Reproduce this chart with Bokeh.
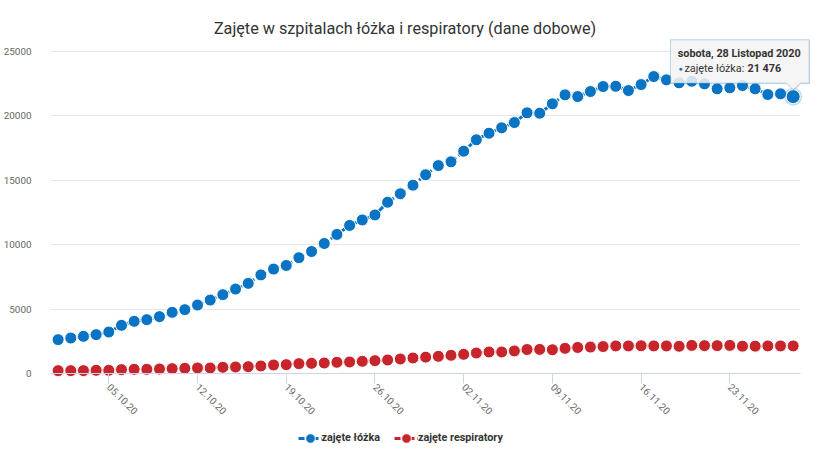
import pandas as pd
from math import pi
from bokeh.plotting import figure
from bokeh.models import (Range1d, FixedTicker, DatetimeTickFormatter, Legend, LegendItem,
                          Label, PolyAnnotation, BoxAnnotation)
from bokeh.embed import file_html
from bokeh.resources import INLINE

# ---------------- data ----------------
chart_title = "Zajęte w szpitalach łóżka i respiratory (dane dobowe)"
start_date = "2020-10-01"
series_names = ["zajęte łóżka", "zajęte respiratory"]
beds = [2627, 2751, 2883, 3015, 3216, 3736, 4046, 4177, 4410, 4743,
        4952, 5309, 5696, 6115, 6549, 6991, 7649, 8099, 8378, 8982,
        9463, 10083, 10788, 11486, 11912, 12299, 13284, 13942, 14609, 15415,
        16128, 16422, 17244, 18127, 18639, 19057, 19468, 20220, 20189, 20917,
        21615, 21483, 21871, 22258, 22281, 21948, 22413, 23033, 22777, 22545,
        22669, 22467, 22080, 22157, 22336, 22080, 21638, 21692, 21476]
respirators = [222, 222, 222, 248, 248, 300, 326, 326, 351, 377,
               403, 429, 429, 481, 506, 532, 584, 661, 687, 765,
               790, 816, 868, 894, 946, 997, 1049, 1126, 1204, 1270,
               1333, 1411, 1488, 1591, 1669, 1669, 1750, 1860, 1870, 1840,
               1950, 2020, 2050, 2090, 2140, 2140, 2150, 2140, 2140, 2110,
               2180, 2160, 2160, 2180, 2120, 2120, 2140, 2140, 2140]
x_tick_labels = ["05.10.20", "12.10.20", "19.10.20", "26.10.20",
                 "02.11.20", "09.11.20", "16.11.20", "23.11.20"]
y_ticks = [0, 5000, 10000, 15000, 20000, 25000]
tooltip_header = "sobota, 28 Listopad 2020"
tooltip_value = "21 476"

dates = pd.date_range(start_date, periods=len(beds), freq="D")
tick_dates = pd.to_datetime(x_tick_labels, format="%d.%m.%y")

BLUE = "#0a74c4"
RED = "#c8242b"
FONT = "Roboto"

# ---------------- layout (pixels) ----------------
# frame covers page x 50..812 and y 5..454; the x axis is pinned at y = 0 (page y 373)
FRAME_LEFT, FRAME_TOP, FRAME_RIGHT, FRAME_BOTTOM = 50, 5, 812, 454
AXIS_Y = 373.0
PX_PER_DAY = 12.674
PX_PER_UNIT = 322.3 / 25000


def sx(px):
    return px - FRAME_LEFT


def sy(py):
    return FRAME_BOTTOM - py


day = pd.Timedelta(days=1)
x_start = dates[0] - (7.6 / PX_PER_DAY) * day
x_end = x_start + ((FRAME_RIGHT - FRAME_LEFT) / PX_PER_DAY) * day
axis_end = dates[-1] + (7.3 / PX_PER_DAY) * day
y_start = -(FRAME_BOTTOM - AXIS_Y) / PX_PER_UNIT
y_end = (AXIS_Y - FRAME_TOP) / PX_PER_UNIT

p = figure(frame_width=FRAME_RIGHT - FRAME_LEFT, frame_height=FRAME_BOTTOM - FRAME_TOP,
           x_axis_type="datetime",
           x_range=Range1d(x_start, x_end), y_range=Range1d(y_start, y_end),
           output_backend="svg", toolbar_location=None, title=None,
           min_border_left=FRAME_LEFT, min_border_right=821 - FRAME_RIGHT,
           min_border_top=FRAME_TOP, min_border_bottom=0)
p.outline_line_color = None
p.background_fill_color = "white"
p.border_fill_color = "white"

# grid
p.xgrid.grid_line_color = None
p.ygrid.grid_line_color = "#e6e6e6"
p.ygrid.ticker = FixedTicker(ticks=y_ticks)
# hide gridline ends right of the plot area (frame is widened for the tooltip)
p.add_layout(BoxAnnotation(left=axis_end, fill_color="white", fill_alpha=1,
                           line_color=None, level="underlay"))

# y axis
p.yaxis.ticker = FixedTicker(ticks=y_ticks)
p.yaxis.axis_line_color = None
p.yaxis.major_tick_line_color = None
p.yaxis.minor_tick_line_color = None
p.yaxis.major_label_standoff = 13
p.yaxis.major_label_text_font = FONT
p.yaxis.major_label_text_font_size = "9.9px"
p.yaxis.major_label_text_color = "#666666"

# x axis (pinned at y = 0)
p.xaxis.fixed_location = 0
p.xaxis.ticker = FixedTicker(ticks=[t.value // 10**6 for t in tick_dates])
fmt = "%d.%m.%y"
p.xaxis.formatter = DatetimeTickFormatter(days=fmt, months=fmt, hours=fmt, years=fmt)
p.xaxis.bounds = (x_start, axis_end)
p.xaxis.axis_line_color = "#ccd6eb"
p.xaxis.major_tick_line_color = "#ccd6eb"
p.xaxis.major_tick_out = 10
p.xaxis.major_tick_in = 0
p.xaxis.minor_tick_line_color = None
p.xaxis.major_label_orientation = -pi / 4
p.xaxis.major_label_standoff = 2
p.xaxis.major_label_text_font = FONT
p.xaxis.major_label_text_font_size = "9.9px"
p.xaxis.major_label_text_color = "#666666"

# series
l1 = p.line(dates, beds, line_color=BLUE, line_width=3, line_dash="6 3 2 3")
s1 = p.scatter(dates, beds, size=12, fill_color=BLUE, line_color="white", line_width=1)
l2 = p.line(dates, respirators, line_color=RED, line_width=3, line_dash="6 3 2 3")
s2 = p.scatter(dates, respirators, size=12, fill_color=RED, line_color="white", line_width=1)

# hovered last point with halo
p.scatter([dates[-1]], [beds[-1]], size=18, fill_color=BLUE, fill_alpha=0.25, line_color=None)
p.scatter([dates[-1]], [beds[-1]], size=14, fill_color=BLUE, line_color="white", line_width=1)

# legend (bottom centre, inside the tall frame)
legend = Legend(items=[LegendItem(label=series_names[0], renderers=[l1, s1]),
                       LegendItem(label=series_names[1], renderers=[l2, s2])],
                orientation="horizontal", location=(sx(297.5), sy(437.5) - 14),
                glyph_width=24, glyph_height=28, label_standoff=0, spacing=14,
                padding=0, margin=0, border_line_color=None, background_fill_alpha=0,
                label_text_font=FONT, label_text_font_size="10.8px",
                label_text_font_style="bold", label_text_color="#333333")
p.add_layout(legend, "center")

# title
p.add_layout(Label(x=sx(404.5), y=sy(28), x_units="screen", y_units="screen", text=chart_title,
                   text_align="center", text_baseline="middle", text_font=FONT,
                   text_font_size="16.2px", text_color="#333333"))

# tooltip box (static)
L, R, T, B = sx(670), sx(808.7), sy(39.3), sy(82.7)
px0, px1, tipx, tipy = sx(786), sx(800), sx(792.7), sy(89.3)
p.add_layout(PolyAnnotation(xs=[L + 1, R + 1, R + 1, px1 + 1, tipx + 1, px0 + 1, L + 1],
                            ys=[T - 1, T - 1, B - 1, B - 1, tipy - 1, B - 1, B - 1],
                            xs_units="screen", ys_units="screen",
                            fill_color="black", fill_alpha=0.08, line_color=None))
p.add_layout(PolyAnnotation(xs=[L, R, R, px1, tipx, px0, L],
                            ys=[T, T, B, B, tipy, B, B],
                            xs_units="screen", ys_units="screen",
                            fill_color="#f7f7f7", fill_alpha=0.85,
                            line_color=BLUE, line_width=1))
p.add_layout(Label(x=sx(677.3), y=sy(52.7), x_units="screen", y_units="screen",
                   text=tooltip_header, text_baseline="middle", text_font=FONT,
                   text_font_size="10.8px", text_font_style="bold", text_color="#333333"))
p.add_layout(Label(x=sx(680), y=sy(68.5), x_units="screen", y_units="screen", text="●",
                   text_align="center", text_baseline="middle", text_font=FONT,
                   text_font_size="7px", text_color=BLUE))
p.add_layout(Label(x=sx(684), y=sy(68.3), x_units="screen", y_units="screen",
                   text=series_names[0] + ": ",
                   text_baseline="middle", text_font=FONT, text_font_size="10.8px",
                   text_color="#333333"))
p.add_layout(Label(x=sx(747), y=sy(68.3), x_units="screen", y_units="screen",
                   text=tooltip_value, text_baseline="middle", text_font=FONT,
                   text_font_size="10.8px", text_font_style="bold", text_color="#333333"))

open("out.html", "w").write(file_html(p, INLINE))
